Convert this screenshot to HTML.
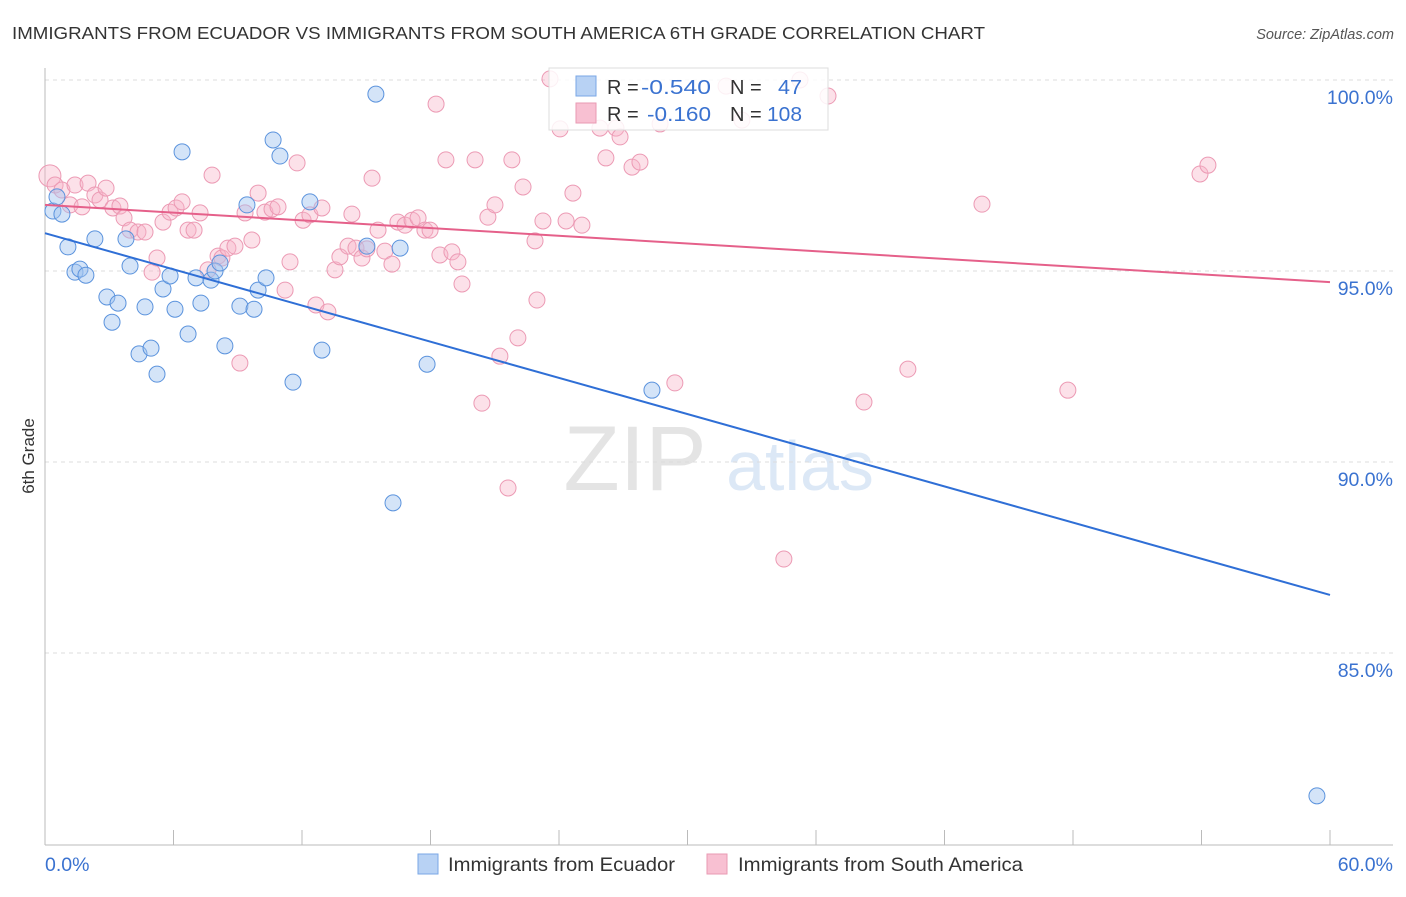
<!DOCTYPE html>
<html><head><meta charset="utf-8"><style>
body{margin:0;background:#fff;font-family:"Liberation Sans",sans-serif}
svg text{font-family:"Liberation Sans",sans-serif}
</style></head><body>
<svg id="c" width="1406" height="892">
<text x="12" y="39" font-size="17.5" fill="#333" textLength="973" lengthAdjust="spacingAndGlyphs">IMMIGRANTS FROM ECUADOR VS IMMIGRANTS FROM SOUTH AMERICA 6TH GRADE CORRELATION CHART</text>
<text x="1394" y="39" font-size="14.5" fill="#555" font-style="italic" text-anchor="end">Source: ZipAtlas.com</text>
<text x="635" y="490" font-size="92" fill="#e4e4e4" font-family="Liberation Serif" text-anchor="middle">ZIP</text>
<text x="800" y="490" font-size="70" fill="#dce8f6" text-anchor="middle">atlas</text>
<g id="grid"></g><g id="pts"></g><g id="lines"></g>
<text x="34" y="456" font-size="17" fill="#333" transform="rotate(-90 34 456)" text-anchor="middle">6th Grade</text>
<g>
<rect x="549" y="68" width="279" height="62" fill="#fff" fill-opacity="0.85" stroke="#ddd"/>
<rect x="576" y="76" width="20" height="20" fill="#b8d2f4" stroke="#7aa7e6"/>
<rect x="576" y="103" width="20" height="20" fill="#f8c0d2" stroke="#e99ab3"/>
<text x="607" y="94" font-size="20" fill="#333">R =</text>
<text x="641" y="94" font-size="20" fill="#3a72d0" textLength="70" lengthAdjust="spacingAndGlyphs">-0.540</text>
<text x="730" y="94" font-size="20" fill="#333">N =</text>
<text x="778" y="94" font-size="20" fill="#3a72d0" textLength="24" lengthAdjust="spacingAndGlyphs">47</text>
<text x="607" y="121" font-size="20" fill="#333">R =</text>
<text x="647" y="121" font-size="20" fill="#3a72d0" textLength="64" lengthAdjust="spacingAndGlyphs">-0.160</text>
<text x="730" y="121" font-size="20" fill="#333">N =</text>
<text x="767" y="121" font-size="20" fill="#3a72d0" textLength="35" lengthAdjust="spacingAndGlyphs">108</text>
</g>
<g>
<rect x="418" y="854" width="20" height="20" fill="#b8d2f4" stroke="#7aa7e6"/>
<text x="448" y="871" font-size="19.5" fill="#333" textLength="227" lengthAdjust="spacingAndGlyphs">Immigrants from Ecuador</text>
<rect x="707" y="854" width="20" height="20" fill="#f8c0d2" stroke="#e99ab3"/>
<text x="738" y="871" font-size="19.5" fill="#333" textLength="285" lengthAdjust="spacingAndGlyphs">Immigrants from South America</text>
</g>
</svg>
<script>
const blueX=[0.37,0.79,0.56,1.07,1.40,1.63,1.91,2.33,2.89,3.13,3.41,3.78,3.97,4.39,4.67,4.95,5.23,5.51,5.84,6.07,6.40,6.68,7.05,7.28,7.75,7.94,8.17,8.40,9.10,9.43,9.76,9.95,10.32,10.65,10.97,11.58,12.37,12.93,15.03,15.45,16.25,16.58,17.84,28.34,59.39];
const blueY=[96.57,96.49,96.94,95.63,94.97,95.05,94.89,95.84,94.32,93.66,94.16,95.84,95.13,92.83,94.06,92.98,92.30,94.53,94.87,94.00,98.12,93.35,94.82,94.16,94.76,95.00,95.21,93.04,94.08,96.73,94.00,94.50,94.82,98.43,98.01,92.09,96.81,92.93,95.65,99.63,88.93,95.60,92.56,91.88,81.26];
const pinkX=[0.23,0.47,0.79,1.17,1.40,1.73,2.01,2.33,2.57,2.85,3.17,3.50,3.69,3.97,4.34,4.67,5.00,5.23,5.51,5.84,6.12,6.40,6.68,6.96,7.24,7.61,7.80,8.08,8.26,8.54,8.87,9.10,9.34,9.66,9.95,10.27,10.60,10.88,11.21,11.44,11.77,12.05,12.37,12.65,12.93,13.21,13.54,13.77,14.15,14.33,14.52,14.80,15.03,15.27,15.55,15.87,16.20,16.48,16.81,17.14,17.42,17.74,17.98,18.26,18.44,18.72,19.00,19.28,19.47,20.08,20.40,20.68,21.01,21.24,21.62,21.80,22.08,22.32,22.88,22.97,23.25,23.58,24.05,24.33,24.65,25.07,25.91,26.19,26.66,26.85,27.41,27.78,28.72,29.41,31.80,32.54,34.50,35.25,36.56,38.24,40.29,43.75,47.76,53.93,54.30];
const pinkY=[97.49,97.25,97.12,96.73,97.25,96.68,97.30,96.99,96.86,97.17,96.65,96.70,96.39,96.07,96.02,96.02,94.97,95.34,96.28,96.54,96.65,96.81,96.07,96.07,96.52,95.03,97.51,95.39,95.34,95.60,95.65,92.59,96.52,95.81,97.04,96.54,96.62,96.68,94.50,95.24,97.83,96.33,96.47,94.11,96.65,93.93,95.03,95.37,95.65,96.49,95.60,95.34,95.58,97.43,96.07,95.52,95.18,96.28,96.20,96.33,96.39,96.07,96.07,99.37,95.42,97.91,95.50,95.24,94.66,97.91,91.54,96.41,96.73,92.77,89.32,97.91,93.25,97.20,95.79,94.24,96.31,100.03,98.72,96.31,97.04,96.20,98.74,97.96,98.74,98.51,97.72,97.85,98.85,92.07,99.84,98.95,87.46,100.0,99.58,91.57,92.43,96.75,91.88,97.54,97.77];
const blueTrend=[95.99,86.52];
const pinkTrend=[96.73,94.71];
const yTicks=[100,95,90,85];
const yTickLabels=["100.0%","95.0%","90.0%","85.0%"];
const xTicks=[0,6,12,18,24,30,36,42,48,54,60];
const NS="http://www.w3.org/2000/svg";
const sx=v=>45+v/60*1285, sy=v=>80+(100-v)*38.2;
function mk(t,a,p){const e=document.createElementNS(NS,t);for(const k in a)e.setAttribute(k,a[k]);p.appendChild(e);return e;}
const grid=document.getElementById('grid');
yTicks.forEach((t,i)=>{
 const l=mk('line',{x1:45,x2:1393,y1:sy(t),y2:sy(t),stroke:'#ddd','stroke-dasharray':'4,4'},grid);
 
 
 const tx=mk('text',{x:1393,y:sy(t)+24,'font-size':19.5,fill:'#3a72d0','text-anchor':'end'},grid);
 tx.textContent=yTickLabels[i];
 
 
});
const ax=mk('line',{x1:45,x2:45,y1:68,y2:845,stroke:'#bbb'},grid);


const bx=mk('line',{x1:45,x2:1393,y1:845,y2:845,stroke:'#bbb'},grid);


xTicks.forEach(t=>{
 const l=mk('line',{x1:sx(t),x2:sx(t),y1:830,y2:845,stroke:'#bbb'},grid);
 
 
});
const x0=mk('text',{x:45,y:871,'font-size':19.5,fill:'#3a72d0'},grid);x0.textContent='0.0%';


const x1=mk('text',{x:1393,y:871,'font-size':19.5,fill:'#3a72d0','text-anchor':'end'},grid);x1.textContent='60.0%';


const pts=document.getElementById('pts');
pinkX.forEach((x,i)=>{
 const c=mk('circle',{cx:sx(x),cy:sy(pinkY[i]),r:i==0?11:8,fill:'rgba(248,180,200,0.4)',stroke:'#ec9ab4','stroke-width':1},pts);
 
 
});
blueX.forEach((x,i)=>{
 const c=mk('circle',{cx:sx(x),cy:sy(blueY[i]),r:8,fill:'rgba(160,196,240,0.45)',stroke:'#5b93dd','stroke-width':1},pts);
 
 
});
const lines=document.getElementById('lines');
const lb=mk('line',{x1:sx(0),y1:sy(blueTrend[0]),x2:sx(60),y2:sy(blueTrend[1]),stroke:'#2f6fd6','stroke-width':2},lines);


const lp=mk('line',{x1:sx(0),y1:sy(pinkTrend[0]),x2:sx(60),y2:sy(pinkTrend[1]),stroke:'#e5608a','stroke-width':2},lines);


</script>
</body></html>
